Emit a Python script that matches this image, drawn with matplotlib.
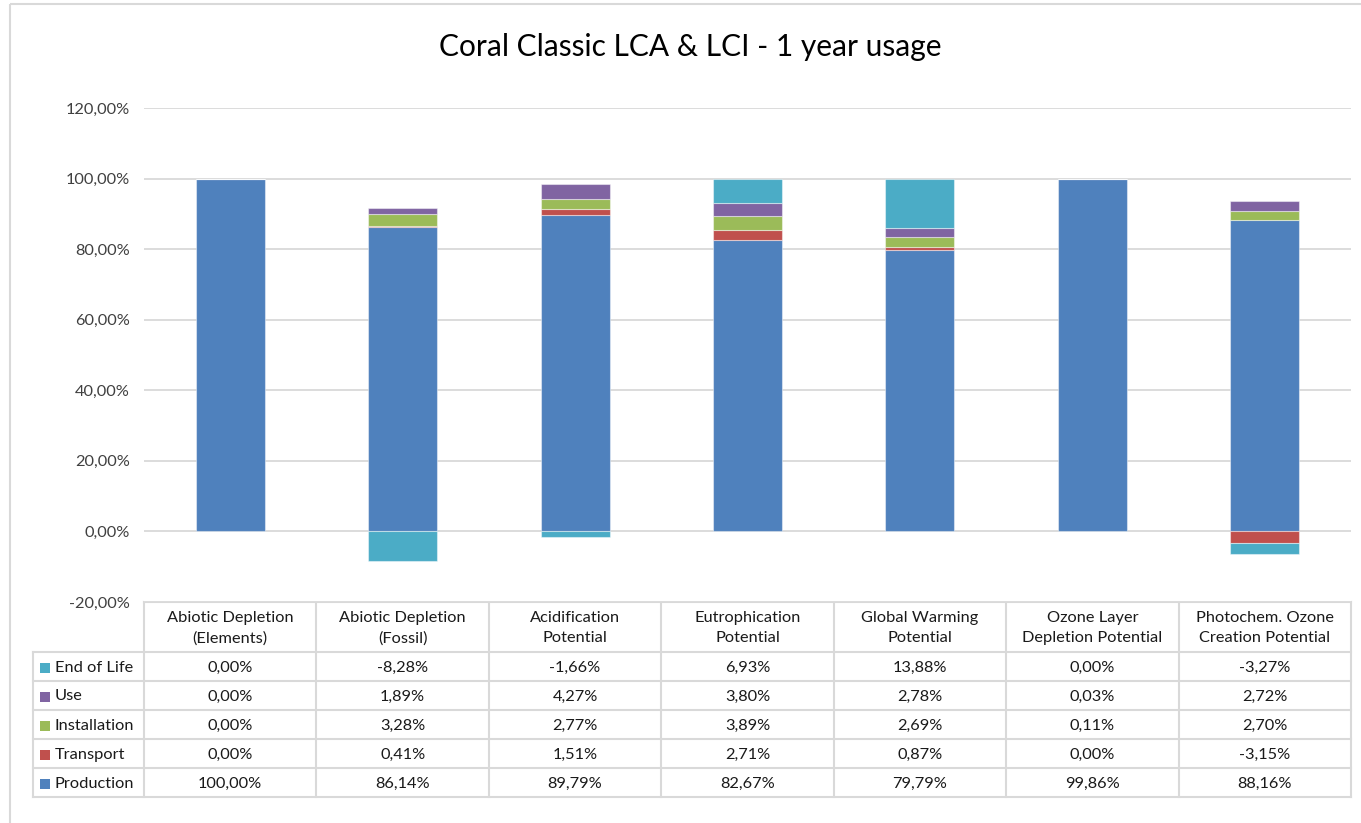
import matplotlib
matplotlib.use("Agg")
import matplotlib.pyplot as plt
from matplotlib.patches import Rectangle
import numpy as np

plt.rcParams['font.family'] = ['Lato', 'DejaVu Sans']

# ── Data ─────────────────────────────────────────────────────────────────────
categories = ["Abiotic Depletion\n(Elements)", "Abiotic Depletion\n(Fossil)",
              "Acidification\nPotential", "Eutrophication\nPotential",
              "Global Warming\nPotential", "Ozone Layer\nDepletion Potential",
              "Photochem. Ozone\nCreation Potential"]
production = [100.00, 86.14, 89.79, 82.67, 79.79, 99.86, 88.16]
transport = [0.00, 0.41, 1.51, 2.71, 0.87, 0.00, -3.15]
installation = [0.00, 3.28, 2.77, 3.89, 2.69, 0.11, 2.70]
use = [0.00, 1.89, 4.27, 3.80, 2.78, 0.03, 2.72]
end_of_life = [0.00, -8.28, -1.66, 6.93, 13.88, 0.00, -3.27]

series = [("Production", production, "#4F81BD"),
          ("Transport", transport, "#C0504D"),
          ("Installation", installation, "#9BBB59"),
          ("Use", use, "#8064A2"),
          ("End of Life", end_of_life, "#4BACC6")]

yticks = [-20, 0, 20, 40, 60, 80, 100, 120]
title = "Coral Classic LCA & LCI - 1 year usage"


def pct(v):
    return f"{v:.2f}".replace(".", ",") + "%"


# ── Figure ───────────────────────────────────────────────────────────────────
W, H = 1361, 823
fig = plt.figure(figsize=(W / 100, H / 100), dpi=100)

# overlay in pixel coordinates for frame + table
ov = fig.add_axes([0, 0, 1, 1])
ov.set_xlim(0, W)
ov.set_ylim(H, 0)
ov.axis("off")
ov.add_patch(Rectangle((10, 4), W + 20, H + 20, fill=False,
                       ec="#D9D9D9", lw=1.5))

px_left, px_right = 144, 1351
px_top, px_bot = 108, 602
ax = fig.add_axes([px_left / W, 1 - px_bot / H,
                   (px_right - px_left) / W, (px_bot - px_top) / H])
x = np.arange(len(categories))
pos_bottom = np.zeros(len(x))
neg_bottom = np.zeros(len(x))
for name, vals, col in series:
    v = np.array(vals)
    bottom = np.where(v >= 0, pos_bottom, neg_bottom)
    ax.bar(x, v, width=0.4, bottom=bottom, color=col,
           edgecolor=(1, 1, 1, 0.45), lw=0.8, zorder=3)
    pos_bottom += np.where(v >= 0, v, 0)
    neg_bottom += np.where(v < 0, v, 0)

ax.set_xlim(-0.5, len(x) - 0.5)
ax.set_ylim(-20, 120)
ax.set_yticks(yticks)
ax.set_yticklabels([pct(t) for t in yticks], fontsize=11.8, color="#404040")
ax.tick_params(axis="y", length=0, pad=10)
ax.set_xticks([])
ax.yaxis.grid(True, color="#D9D9D9", lw=1.3, zorder=0)
for s in ax.spines.values():
    s.set_visible(False)

fig.text(0.507, 1 - 47 / H, title, ha="center", va="center",
         fontsize=21.5, color="#000000")

# ── Data table ───────────────────────────────────────────────────────────────
grid_c = "#D9D9D9"
txt_c = "#1A1A1A"
fs = 11.8
leg_left = 33
col_w = (px_right - px_left) / len(categories)
head_top, head_bot = 602, 652
row_h = (797 - head_bot) / 5
rows = list(reversed(series))  # End of Life on top

ov.plot([px_left, px_right], [head_top, head_top], color=grid_c, lw=1.5)
for i in range(len(categories) + 1):
    xx = px_left + i * col_w
    ov.plot([xx, xx], [head_top, 797], color=grid_c, lw=1.5)
ov.plot([leg_left, leg_left], [head_bot, 797], color=grid_c, lw=1.5)
for r in range(6):
    yy = head_bot + r * row_h
    ov.plot([leg_left, px_right], [yy, yy], color=grid_c, lw=1.5)

for i, cat in enumerate(categories):
    ov.text(px_left + (i + 0.5) * col_w, (head_top + head_bot) / 2 + 1, cat,
            ha="center", va="center", fontsize=fs, color=txt_c,
            linespacing=1.55)

for r, (name, vals, col) in enumerate(rows):
    yc = head_bot + (r + 0.5) * row_h + 1
    ov.add_patch(Rectangle((40, yc - 5), 10, 10, color=col, lw=0))
    ov.text(55, yc, name, ha="left", va="center", fontsize=fs, color=txt_c)
    for i, v in enumerate(vals):
        ov.text(px_left + (i + 0.5) * col_w, yc, pct(v), ha="center",
                va="center", fontsize=fs, color=txt_c)

fig.savefig("out.png", dpi=100)
